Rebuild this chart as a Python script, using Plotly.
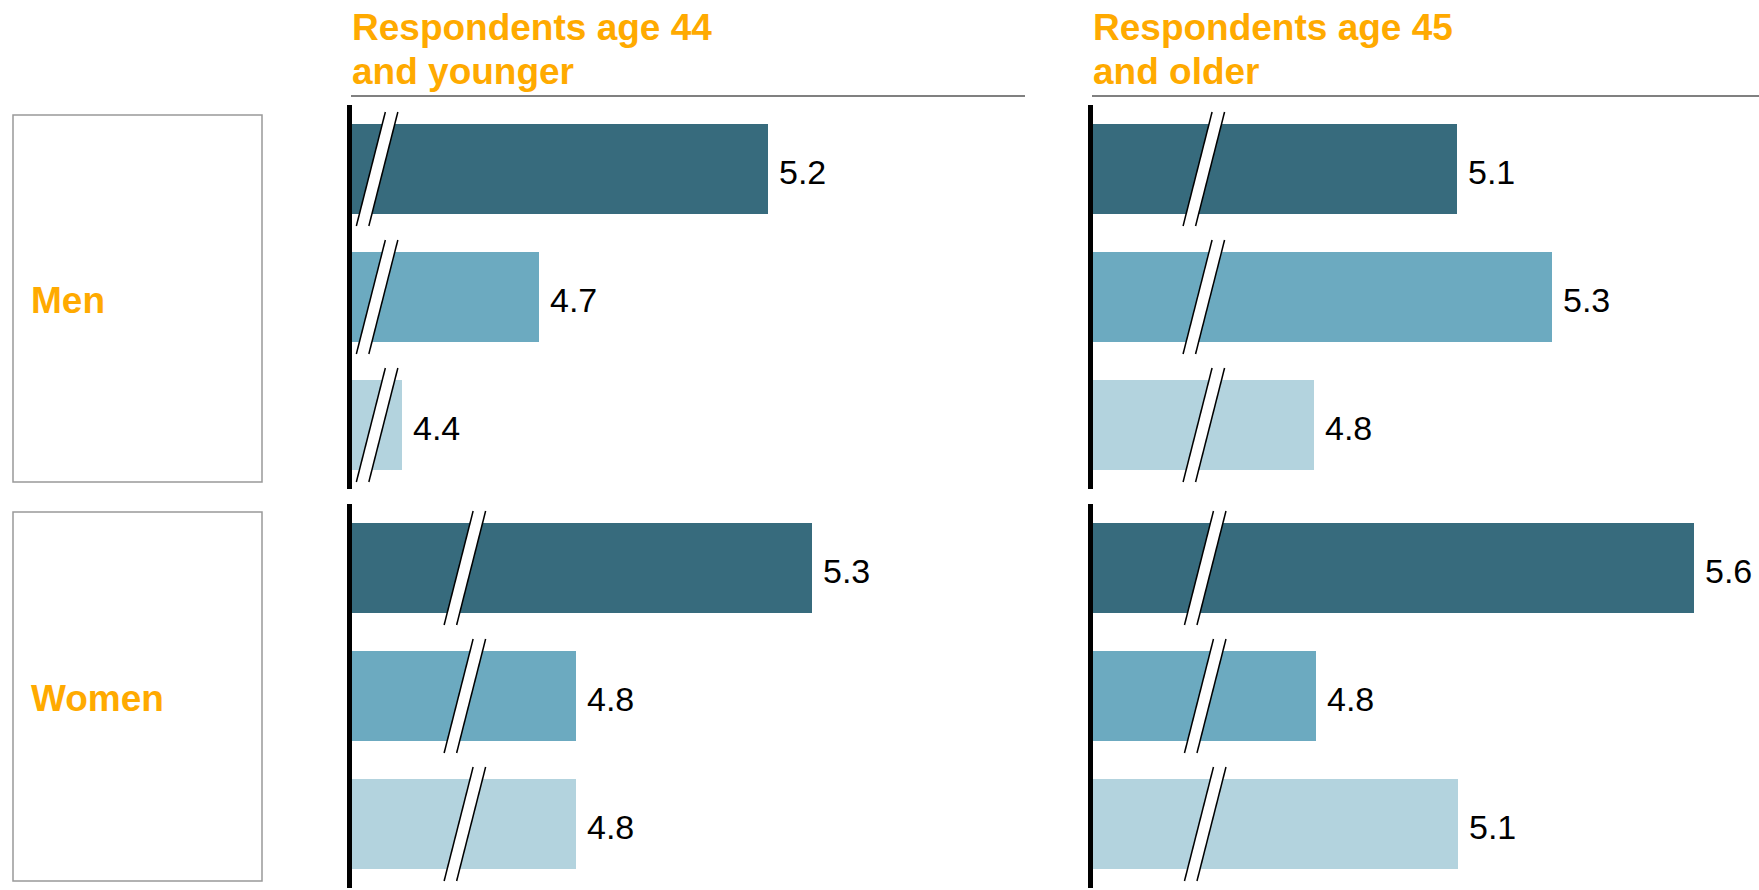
import plotly.graph_objects as go

# ---------------- data ----------------
sexes = ["Men", "Women"]
age_titles = [["Respondents age 44", "and younger"], ["Respondents age 45", "and older"]]
bar_items = ["Group 1", "Group 2", "Group 3"]          # three unlabelled bars per block
young_men = [5.2, 4.7, 4.4]
young_women = [5.3, 4.8, 4.8]
old_men = [5.1, 5.3, 4.8]
old_women = [5.6, 4.8, 5.1]
bar_colors = ["#376B7D", "#6CAAC0", "#B3D3DE"]

# axis ranges (truncated value axes) and where the break marks sit
ranges = [[4.2907, 5.7617], [4.3254, 5.7513], [4.3357, 5.7349], [4.328, 5.7375]]
break_at = [4.345, 4.564, 4.568, 4.565]

W, H = 1759, 890
ORANGE = "#FFAA00"
FONT = "Liberation Sans, Arial, Helvetica, sans-serif"


def px(v):
    return v / W


def py(v):
    return 1 - v / H


x_domains = [[px(352), px(1025)], [px(1093), 1.0]]
y_domains = [[py(489), py(105)], [py(888), py(504)]]

panels = [  # (values, age index, sex index)
    (young_men, 0, 0),
    (young_women, 0, 1),
    (old_men, 1, 0),
    (old_women, 1, 1),
]

fig = go.Figure()
layout = dict(
    width=W, height=H,
    margin=dict(l=0, r=0, t=0, b=0, pad=0),
    paper_bgcolor="white", plot_bgcolor="white",
    showlegend=False, bargap=0,
    font=dict(family=FONT, color="black"),
)
shapes = []
annotations = []

for i, (vals, a, s) in enumerate(panels):
    n = i + 1
    xa = "x" if n == 1 else f"x{n}"
    ya = "y" if n == 1 else f"y{n}"
    xk = "xaxis" if n == 1 else f"xaxis{n}"
    yk = "yaxis" if n == 1 else f"yaxis{n}"
    fig.add_trace(go.Bar(
        x=vals, y=bar_items, orientation="h",
        marker=dict(color=bar_colors, line=dict(width=0)),
        width=0.703, xaxis=xa, yaxis=ya, hoverinfo="x",
    ))
    layout[xk] = dict(domain=x_domains[a], range=ranges[i], anchor=ya,
                      visible=False, fixedrange=True)
    layout[yk] = dict(domain=y_domains[s], anchor=xa, type="category",
                      categoryorder="array", categoryarray=bar_items,
                      autorange="reversed", showticklabels=False, ticks="",
                      showgrid=False, zeroline=False,
                      showline=True, linewidth=5, linecolor="black",
                      fixedrange=True)
    for j, v in enumerate(vals):
        # break mark: white parallelogram with two black edges
        common = dict(xref=xa, yref=ya, xsizemode="pixel", ysizemode="pixel",
                      xanchor=break_at[i], yanchor=bar_items[j], layer="above")
        shapes.append(dict(type="path", path="M -20.5 -57 L 8.5 57 L 21 57 L -8 -57 Z",
                           fillcolor="white", line=dict(width=0), **common))
        shapes.append(dict(type="path", path="M -20.5 -57 L 8.5 57",
                           line=dict(color="black", width=1.5), **common))
        shapes.append(dict(type="path", path="M -8 -57 L 21 57",
                           line=dict(color="black", width=1.5), **common))
        # value label
        annotations.append(dict(x=v, y=bar_items[j], xref=xa, yref=ya,
                                text=f"{v:.1f}", showarrow=False,
                                xanchor="left", yanchor="middle",
                                xshift=9, yshift=-3,
                                font=dict(size=34, color="black", family=FONT)))

# column titles + grey rules
for a, lines in enumerate(age_titles):
    x0 = x_domains[a][0]
    for k, t in enumerate(lines):
        annotations.append(dict(x=x0, y=py(28 + 43.4 * k), xref="paper", yref="paper",
                                text=f"<b>{t}</b>", showarrow=False,
                                xanchor="left", yanchor="middle", xshift=-2,
                                font=dict(size=37, color=ORANGE, family=FONT)))
    shapes.append(dict(type="line", xref="paper", yref="paper",
                       x0=x0 - px(1), x1=x_domains[a][1], y0=py(96), y1=py(96),
                       line=dict(color="#808080", width=2)))

# row label boxes
box_y = [[115, 482], [512, 881]]
for s, name in enumerate(sexes):
    y0, y1 = box_y[s]
    shapes.append(dict(type="rect", xref="paper", yref="paper",
                       x0=px(13), x1=px(262), y0=py(y1), y1=py(y0),
                       line=dict(color="#999999", width=1.5), fillcolor="rgba(0,0,0,0)"))
    annotations.append(dict(x=px(29), y=py((y0 + y1) / 2 + 2), xref="paper", yref="paper",
                            text=f"<b>{name}</b>", showarrow=False,
                            xanchor="left", yanchor="middle",
                            font=dict(size=37, color=ORANGE, family=FONT)))

layout["shapes"] = shapes
layout["annotations"] = annotations
fig.update_layout(**layout)
fig.update_traces(cliponaxis=False)

fig.write_html(
    "out.html",
    config={"displayModeBar": False},
    post_script="document.body.style.margin='0';document.body.style.overflow='hidden';",
)
